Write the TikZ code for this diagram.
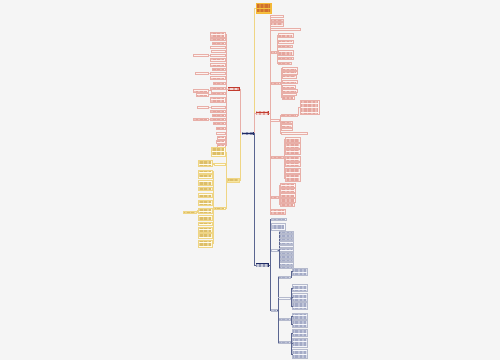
\documentclass[tikz,border=0pt]{standalone}
\usetikzlibrary{patterns.meta}

\definecolor{bg}{HTML}{F5F5F5}
\definecolor{gold}{HTML}{F4C23F}
\definecolor{goldtxt}{HTML}{D0702E}
\definecolor{redmain}{HTML}{C23B2E}
\definecolor{redline}{HTML}{E8AFA8}
\definecolor{redfill}{HTML}{FDF3F1}
\definecolor{redtxt}{HTML}{E5A59D}
\definecolor{yelmain}{HTML}{F7E6A2}
\definecolor{yelline}{HTML}{EFD584}
\definecolor{yelfill}{HTML}{FFFCEE}
\definecolor{yeltxt}{HTML}{DDBE67}
\definecolor{navmain}{HTML}{1F2B66}
\definecolor{navline}{HTML}{5A6590}
\definecolor{navfill}{HTML}{F5F6FA}
\definecolor{navtxt}{HTML}{A3AAC6}

\tikzset{
  txt/.style={path picture={\fill[pattern={Lines[distance=1.3pt,line width=0.42pt]},pattern color=#1]
      ([shift={(0.8pt,-0.5pt)}]path picture bounding box.north west) rectangle
      ([shift={(-0.8pt,0.5pt)}]path picture bounding box.south east);}},
  leaf/.style={rectangle, inner sep=0pt, line width=0.2pt},
  rleaf/.style={leaf, draw=redline, fill=redfill, txt=redtxt},
  yleaf/.style={leaf, draw=yelline, fill=yelfill, txt=yeltxt},
  nleaf/.style={leaf, draw=navline!45, fill=navfill, txt=navtxt},
  branch/.style={rectangle, inner sep=0pt, minimum width=12, minimum height=3.5},
  rline/.style={draw=redline, line width=0.35pt},
  yline/.style={draw=yelline, line width=0.35pt},
  nline/.style={draw=navline, line width=0.35pt},
}

\begin{document}
\begin{tikzpicture}[x=1pt,y=-1pt]
  \useasboundingbox (0,0) rectangle (500,360);
  \fill[bg] (0,0) rectangle (500,360);

  \node[rectangle, inner sep=0pt, minimum width=15, minimum height=10, fill=gold, draw=gold!85!orange,
        line width=0.3pt, txt=goldtxt] (root) at (263.5,8.5) {};
  \node[branch, fill=navmain, txt=white!75!navmain] (hub) at (247.5,133.5) {};
  \node[branch, minimum width=13, fill=redmain, txt=white!80!redmain] (rbr) at (262,113) {};
  \node[branch, fill=redmain, txt=white!80!redmain] (lbr) at (233.5,89) {};
  \node[branch, fill=yelmain, draw=yelline, line width=0.25pt, txt=yeltxt] (ybr) at (233,180) {};
  \node[branch, minimum width=13, fill=navmain, txt=white!75!navmain] (nbr) at (262,265) {};

  \draw[yline, line width=0.5pt] (hub.east) -- ++(1,0) |- (root.west);
  \draw[rline, line width=0.5pt] (hub.east) -- ++(1,0) |- (rbr.west);
  \draw[nline, line width=0.5pt] (hub.east) -- ++(1,0) |- (nbr.west);
  \draw[rline, line width=0.5pt] (hub.west) -- ++(-1,0) |- (lbr.east);
  \draw[yline, line width=0.5pt] (hub.west) -- ++(-1,0) |- (ybr.east);

  % left red
  \foreach \y/\h/\w [count=\i] in {34.5/4.5/15, 39/2.5/15, 43/2.5/13, 47/2.5/15, 51/2.5/14, 55/2.5/15,
      60/3/15, 65/3/15, 69/2.5/13, 73/2.5/15, 78/3/15, 83/2.5/12, 88/2.5/15, 93/2.5/13, 99.5/5/15,
      107/2.5/14, 111/2.5/15, 115/2.5/13, 119/2.5/15, 123/2.5/12, 128/2.5/9, 133/2.5/9, 137.5/2.5/8,
      141.5/2.5/9, 145.5/2.5/8}
    {\node[rleaf, anchor=east, minimum width=\w, minimum height=\h] (lr\i) at (225,\y) {};
     \draw[rline] (lbr.west) -- ++(-1,0) |- (lr\i.east);}
  \foreach \p/\y/\w [count=\i] in {6/55/15, 10/73/13, 14/90.5/15, 14/94.5/12, 16/107/11, 19/119/15}
    {\node[rleaf, anchor=east, minimum width=\w, minimum height=2.5] (ls\i) at (208,\y) {};
     \draw[rline] (lr\p.west) -- ++(-0.8,0) |- (ls\i.east);}

  % right red
  \foreach \y/\h/\w [count=\i] in {16/2.5/13, 20/2.5/13, 24.5/4/13, 29/2.5/30, 211.5/5/15}
    {\node[rleaf, anchor=west, minimum width=\w, minimum height=\h] (rr\i) at (270,\y) {};
     \draw[rline] (rbr.east) -- ++(1,0) |- (rr\i.west);}
  \foreach \y/\w [count=\i] in {52/6, 83/10, 120/9, 157/13, 197/8}
    {\node[rleaf, anchor=west, minimum width=\w, minimum height=2.5] (rs\i) at (270,\y) {};
     \draw[rline] (rbr.east) -- ++(1,0) |- (rs\i.west);}
  \foreach \y/\h/\w [count=\i] in {35/4/15, 41.5/3/15, 46/2.5/14, 52.5/5/15, 58/2.5/15, 63/2.5/13}
    {\node[rleaf, anchor=west, minimum width=\w, minimum height=\h] (sa\i) at (277.8,\y) {};
     \draw[rline] (rs1.east) -- ++(1,0) |- (sa\i.west);}
  \foreach \y/\h/\w [count=\i] in {68.5/3/15, 72.5/2.5/15, 76.5/2.5/14, 81.5/3.5/15, 86.5/2.5/13,
      90.5/2.5/15, 94/2.5/14, 97.5/2.5/12}
    {\node[rleaf, anchor=west, minimum width=\w, minimum height=\h] (sb\i) at (281.8,\y) {};
     \draw[rline] (rs2.east) -- ++(1,0) |- (sb\i.west);}
  \foreach \y/\w [count=\i] in {115/16, 122/11, 125.5/11, 129/11, 133/26}
    {\node[rleaf, anchor=west, minimum width=\w, minimum height=2.5] (sc\i) at (280.8,\y) {};
     \draw[rline] (rs3.east) -- ++(1,0) |- (sc\i.west);}
  \node[rleaf, anchor=west, minimum width=19, minimum height=14] (scx) at (299.5,107.5) {};
  \draw[rline] (sc1.east) -- ++(1,0) |- (scx.west);
  \foreach \y/\h [count=\i] in {139.5/5, 145.5/5, 152/5, 158.5/5, 164.5/4, 170.5/5, 178/7}
    {\node[rleaf, anchor=west, minimum width=15, minimum height=\h] (sd\i) at (284.8,\y) {};
     \draw[rline] (rs4.east) -- ++(1,0) |- (sd\i.west);}
  \foreach \y/\h/\w [count=\i] in {185/4/15, 190/4/15, 195/4/15, 200/4/15, 204.5/3/14}
    {\node[rleaf, anchor=west, minimum width=\w, minimum height=\h] (se\i) at (279.8,\y) {};
     \draw[rline] (rs5.east) -- ++(1,0) |- (se\i.west);}

  % yellow
  \foreach \y/\h/\w [count=\i] in {152/9/14, 164/2.5/11, 208/2.5/11}
    {\node[yleaf, anchor=east, minimum width=\w, minimum height=\h] (yy\i) at (225,\y) {};
     \draw[yline] (ybr.west) -- ++(-1,0) |- (yy\i.east);}
  \node[yleaf, anchor=east, minimum width=14, minimum height=6] (yz) at (212.2,163.5) {};
  \draw[yline] (yy2.west) -- ++(-1,0) |- (yz.east);
  \foreach \y/\h [count=\i] in {171.5/3.5, 176.5/4, 182.5/5, 188.5/3.5, 195/4, 202.5/5, 210.5/5,
      217.5/5, 223.5/3.5, 229.5/5, 235.5/5, 243.5/7}
    {\node[yleaf, anchor=east, minimum width=14, minimum height=\h] (yt\i) at (212.2,\y) {};
     \draw[yline] (yy3.west) -- ++(-1,0) |- (yt\i.east);}
  \node[yleaf, anchor=east, minimum width=13, minimum height=2.5] (yf) at (196.2,212) {};
  \draw[yline] (yt7.west) -- ++(-1,0) |- (yf.east);

  % navy
  \foreach \y/\h/\w [count=\i] in {219/2.5/15, 226.5/7/14}
    {\node[nleaf, anchor=west, minimum width=\w, minimum height=\h] (nn\i) at (270.5,\y) {};
     \draw[nline] (nbr.east) -- ++(1,0) |- (nn\i.west);}
  \node[nleaf, anchor=west, minimum width=7, minimum height=2.5] (nb1) at (270.5,250) {};
  \node[nleaf, anchor=west, minimum width=6, minimum height=2.5] (nb2) at (270.5,310) {};
  \draw[nline] (nbr.east) -- ++(1,0) |- (nb1.west);
  \draw[nline] (nbr.east) -- ++(1,0) |- (nb2.west);
  \foreach \y [count=\i] in {232,235.5,239,242.5,246,249.5,253,256.5,260,263.5,267}
    {\node[nleaf, anchor=west, minimum width=14, minimum height=2.5] (nc\i) at (279.3,\y) {};
     \draw[nline] (nb1.east) -- ++(1,0) |- (nc\i.west);}
  \foreach \y [count=\i] in {277,298,319,342}
    {\node[nleaf, anchor=west, minimum width=12, minimum height=2.5] (nd\i) at (278.3,\y) {};
     \draw[nline] (nb2.east) -- ++(1,0) |- (nd\i.west);}
  \foreach \p/\y/\h [count=\i] in {1/271.5/7, 2/288/7, 2/297/8, 2/306/7, 3/316/6, 3/324/7,
      4/333/7, 4/343/9, 4/354/9}
    {\node[nleaf, anchor=west, minimum width=15, minimum height=\h] (ne\i) at (292,\y) {};
     \draw[nline] (nd\p.east) -- ++(1,0) |- (ne\i.west);}
\end{tikzpicture}
\end{document}
